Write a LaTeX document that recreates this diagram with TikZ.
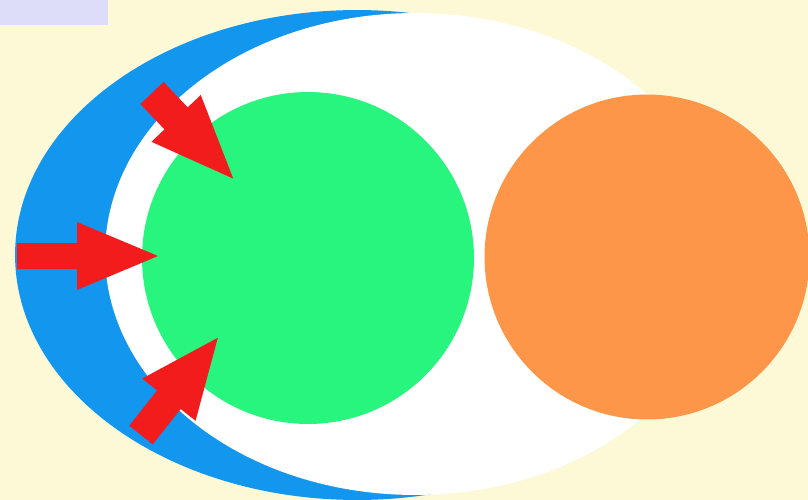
\documentclass[tikz,border=0pt]{standalone}
\usepackage{tikz}
\usepackage{xcolor}
\usetikzlibrary{shapes.geometric, positioning}
\definecolor{cCream}{RGB}{253,249,214}
\definecolor{cLilac}{RGB}{221,221,250}
\definecolor{cBlue}{RGB}{18,150,238}
\definecolor{cGreen}{RGB}{40,245,125}
\definecolor{cOrange}{RGB}{253,150,72}
\definecolor{cRed}{RGB}{242,28,28}
\tikzset{
	blob/.style ={ellipse, inner sep=0pt, draw=none},
	ball/.style ={circle, inner sep=0pt, draw=none},
	% block arrow: shaft length / head length / shaft half width, points along +x
	pics/push/.style n args={3}{code={
		\fill[cRed] (0,-#3) -- (#1,-#3) -- (#1,-34) -- (#1+#2,0) -- (#1,34) -- (#1,#3) -- (0,#3) -- cycle;
	}},
}
\begin{document}
\begin{tikzpicture}[x=0.02cm, y=-0.02cm]
			\fill[cCream] (0,0) rectangle (808,500);
			\useasboundingbox (0,0) rectangle (808,500);
			\clip (0,0) rectangle (808,500);
			\fill[cLilac] (0,0) rectangle (108,25);
			\node[blob, fill=cBlue, minimum width=13.68cm, minimum height=9.8cm] (outer) at (357,255) {};
			\node[blob, fill=white, minimum width=12.4cm, minimum height=9.64cm] (inner) at (415,254) {};
			\node[ball, fill=cGreen, minimum size=6.64cm] (core) at (308,258) {};
			\node[ball, fill=cOrange, minimum size=6.5cm] (side) at (647,257) {};
			\pic[rotate=-46.5] at (152,93) {push={35}{83}{16}};
			\pic at (17,256) {push={60}{81}{13}};
			\pic[rotate=51.7] at (141,435) {push={45}{79}{15}};
		\end{tikzpicture}
\end{document}
